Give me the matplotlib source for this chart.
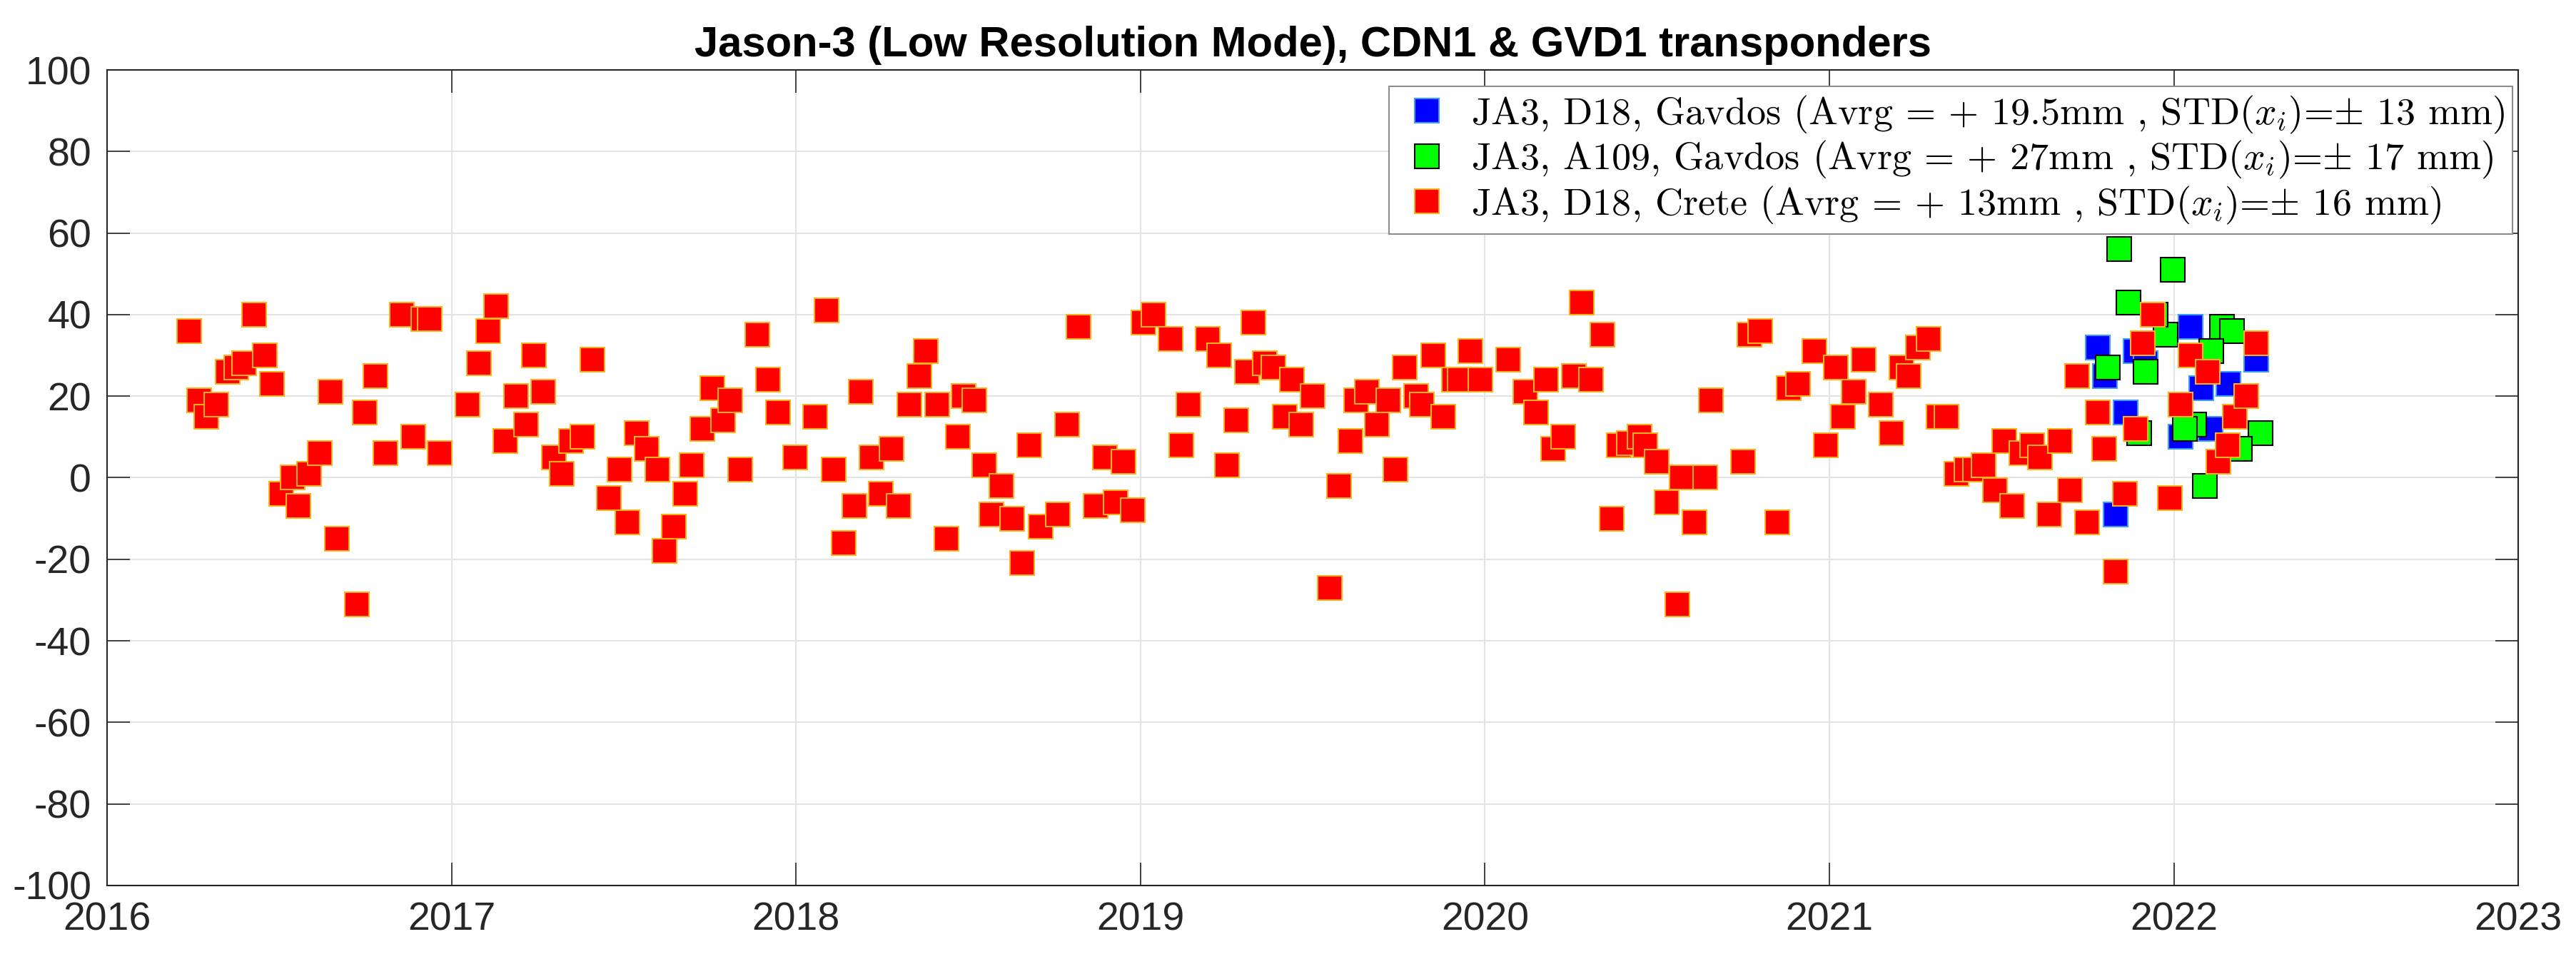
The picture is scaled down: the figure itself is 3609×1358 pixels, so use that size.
import matplotlib
matplotlib.use('Agg')
import matplotlib.pyplot as plt
import numpy as np

# decimal years and differences (mm)
crete_t = [2016.239, 2016.267, 2016.287, 2016.316, 2016.349, 2016.375, 2016.397, 2016.426,
           2016.457, 2016.479, 2016.506, 2016.539, 2016.556, 2016.586, 2016.617, 2016.648,
           2016.666, 2016.726, 2016.747, 2016.778, 2016.807, 2016.856, 2016.888, 2016.917,
           2016.937, 2016.965, 2017.047, 2017.079, 2017.107, 2017.129, 2017.156, 2017.188,
           2017.217, 2017.238, 2017.266, 2017.296, 2017.319, 2017.347, 2017.379, 2017.408,
           2017.456, 2017.488, 2017.510, 2017.538, 2017.566, 2017.597, 2017.618, 2017.646,
           2017.679, 2017.697, 2017.728, 2017.756, 2017.789, 2017.809, 2017.837, 2017.887,
           2017.919, 2017.948, 2017.998, 2018.056, 2018.088, 2018.109, 2018.138, 2018.170,
           2018.188, 2018.219, 2018.247, 2018.278, 2018.297, 2018.329, 2018.357, 2018.377,
           2018.409, 2018.437, 2018.469, 2018.487, 2018.518, 2018.547, 2018.568, 2018.597,
           2018.628, 2018.656, 2018.678, 2018.710, 2018.759, 2018.787, 2018.819, 2018.869,
           2018.897, 2018.928, 2018.950, 2018.978, 2019.008, 2019.038, 2019.087, 2019.119,
           2019.140, 2019.196, 2019.228, 2019.250, 2019.278, 2019.310, 2019.328, 2019.360,
           2019.386, 2019.419, 2019.440, 2019.467, 2019.500, 2019.549, 2019.577, 2019.610,
           2019.626, 2019.658, 2019.687, 2019.719, 2019.740, 2019.768, 2019.800, 2019.817,
           2019.849, 2019.878, 2019.909, 2019.926, 2019.958, 2019.987, 2020.068, 2020.118,
           2020.149, 2020.177, 2020.198, 2020.228, 2020.259, 2020.280, 2020.308, 2020.340,
           2020.368, 2020.389, 2020.417, 2020.449, 2020.466, 2020.499, 2020.527, 2020.559,
           2020.570, 2020.609, 2020.640, 2020.657, 2020.749, 2020.767, 2020.798, 2020.848,
           2020.881, 2020.908, 2020.957, 2020.990, 2021.018, 2021.039, 2021.071, 2021.099,
           2021.149, 2021.180, 2021.209, 2021.229, 2021.257, 2021.289, 2021.317, 2021.339,
           2021.369, 2021.397, 2021.422, 2021.448, 2021.480, 2021.508, 2021.530, 2021.558,
           2021.589, 2021.611, 2021.638, 2021.670, 2021.699, 2021.720, 2021.748, 2021.780,
           2021.797, 2021.830, 2021.858, 2021.888, 2021.910, 2021.939, 2021.988, 2022.019,
           2022.048, 2022.098, 2022.129, 2022.157, 2022.178, 2022.210, 2022.239]
crete_v = [36, 19, 15, 18, 26, 27, 28, 40,
           30, 23, -4, 0, -7, 1, 6, 21,
           -15, -31, 16, 25, 6, 40, 10, 39,
           39, 6, 18, 28, 36, 42, 9, 20,
           13, 30, 21, 5, 1, 9, 10, 29,
           -5, 2, -11, 11, 7, 2, -18, -12,
           -4, 3, 12, 22, 14, 19, 2, 35,
           24, 16, 5, 15, 41, 2, -16, -7,
           21, 5, -4, 7, -7, 18, 25, 31,
           18, -15, 10, 20, 19, 3, -9, -2,
           -10, -21, 8, -12, -9, 13, 37, -7,
           5, -6, 4, -8, 38, 40, 34, 8,
           18, 34, 30, 3, 14, 26, 38, 28,
           27, 15, 24, 13, 20, -27, -2, 9,
           19, 21, 13, 19, 2, 27, 20, 18,
           30, 15, 24, 24, 31, 24, 29, 21,
           16, 24, 7, 10, 25, 43, 24, 35,
           -10, 8, 8.5, 10, 8, 4, -6, -31,
           0, -11, 0, 19, 4, 35, 36, -11,
           22, 23, 31, 8, 27, 15, 21, 29,
           18, 11, 27, 25, 32, 34, 15, 15,
           1, 2, 2, 3, -3, 9, -7, 6,
           8, 5, -9, 9, -3, 25, -11, 16,
           7, -23, -4, 12, 33, 40, -5, 18,
           30, 26, 4, 8, 15, 20, 33]

gvd_d18_t = [2021.780, 2021.799, 2021.888, 2021.917, 2021.859, 2021.830,
             2022.019, 2022.049, 2022.079, 2022.158, 2022.106, 2022.239]
gvd_d18_v = [32, 25, 31, 28, 16, -9, 10, 37, 22, 23, 12, 29]

gvd_a109_t = [2021.841, 2021.868, 2021.809, 2021.917, 2021.900, 2021.997, 2021.977,
              2021.947, 2022.140, 2022.169, 2022.109, 2022.059, 2022.031, 2022.252,
              2022.191, 2022.091]
gvd_a109_v = [56, 43, 27, 26, 11, 51, 35, 40, 37, 36, 31, 13, 12, 11, 7, -2]

labels = [r'JA3, D18, Gavdos (Avrg = + 19.5mm , STD($x_i$)=$\pm$ 13 mm)',
          r'JA3, A109, Gavdos (Avrg = + 27mm , STD($x_i$)=$\pm$ 17 mm)',
          r'JA3, D18, Crete (Avrg = + 13mm , STD($x_i$)=$\pm$ 16 mm)']

plt.rcParams['font.family'] = ['Liberation Sans', 'DejaVu Sans']
plt.rcParams['mathtext.fontset'] = 'cm'
plt.rcParams['axes.unicode_minus'] = False

fig = plt.figure(figsize=(36.09, 13.58), dpi=100)
ax = fig.add_axes([0.0416, 0.0862, 0.9360, 0.8416])

ms = 25
ax.plot(gvd_d18_t, gvd_d18_v, 's', ms=ms, mfc='#0000ff', mec='#3d9bff', mew=1.5,
        label=labels[0], zorder=3)
ax.plot(gvd_a109_t, gvd_a109_v, 's', ms=ms, mfc='#00ff00', mec='black', mew=1.5,
        label=labels[1], zorder=4)
ax.plot(crete_t, crete_v, 's', ms=ms, mfc='#ff0000', mec='#ffb020', mew=1.5,
        label=labels[2], zorder=5)

ax.set_xlim(2016, 2023)
ax.set_ylim(-100, 100)
ax.set_xticks(np.arange(2016, 2024))
ax.set_yticks(np.arange(-100, 101, 20))
ax.grid(True, color='#e3e3e3', linewidth=1.5)
ax.set_axisbelow(True)

for s in ax.spines.values():
    s.set_color('#262626')
    s.set_linewidth(1.5)
ax.tick_params(direction='in', length=23, width=1.2, colors='#262626',
               labelsize=40, top=True, right=True, pad=16)

ax.set_title('Jason-3 (Low Resolution Mode), CDN1 & GVD1 transponders',
             fontsize=43, fontweight='bold', pad=14)

leg = ax.legend(loc='upper right', bbox_to_anchor=(0.9976, 0.98), borderaxespad=0,
                prop={'family': 'cmr10', 'size': 39}, frameon=True, fancybox=False,
                edgecolor='#8c8c8c', framealpha=1, handlelength=1.55,
                handletextpad=0.37, borderpad=0.2, labelspacing=0.1)
leg.get_frame().set_linewidth(1.5)
leg.set_zorder(10)

fig.savefig('out.png', dpi=100)
